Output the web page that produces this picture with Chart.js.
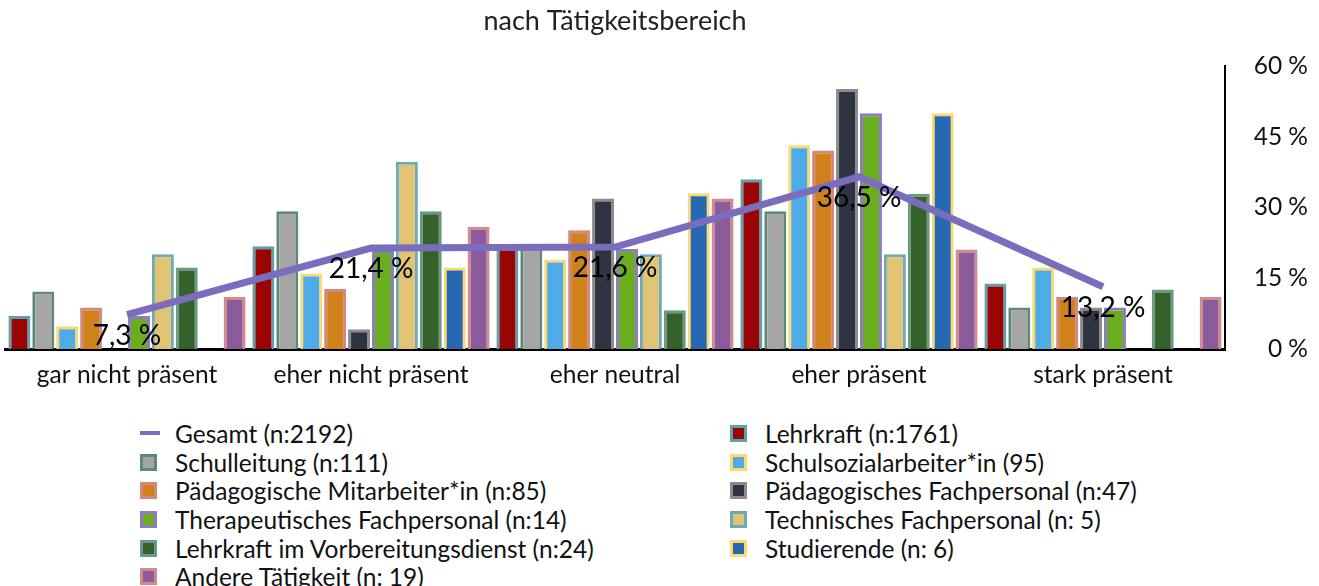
<!DOCTYPE html>
<html>
<head>
<meta charset="utf-8">
<script src="https://cdn.jsdelivr.net/npm/chart.js@4/dist/chart.umd.min.js"></script>
<style>
  html, body { margin: 0; padding: 0; background: #fff; overflow: hidden; }
  #wrap { position: relative; width: 1319px; height: 586px; font-family: Lato, "Open Sans", sans-serif; }
  #chartBox { position: absolute; left: 0; top: 0; width: 1319px; height: 400px; }
  #legend { position: absolute; left: 140px; top: 419px; display: grid;
            grid-template-columns: 590px 500px; grid-auto-rows: 28.7px; font-size: 24.5px; color: #111; }
  .item { display: flex; align-items: center; white-space: nowrap; }
  .box { width: 11px; height: 11px; border: 3px solid; margin-right: 18px; }
  .line { width: 20px; height: 4px; margin-right: 15px; }
</style>
</head>
<body>
<div id="wrap">
  <div id="chartBox"><canvas id="chart"></canvas></div>
  <div id="legend"></div>
</div>
<script>
// --- DATEN ---
const kategorien = ["gar nicht präsent", "eher nicht präsent", "eher neutral", "eher präsent", "stark präsent"];
const gesamt = [7.3, 21.4, 21.6, 36.5, 13.2];

const lehrkraft          = [7.0, 21.8, 21.5, 36.0, 13.9];
const schulleitung       = [12.2, 29.2, 21.3, 29.2, 8.8];
const schulsozial        = [4.8, 16.0, 19.0, 43.2, 17.3];
const paedMitarbeiter    = [8.8, 12.7, 25.2, 42.1, 11.0];
const paedFachpersonal   = [0, 4.2, 31.9, 55.1, 8.8];
const therapeutisch      = [7.0, 21.0, 21.2, 50.0, 8.8];
const technisch          = [20.1, 39.7, 20.1, 20.1, 0];
const vorbereitung       = [17.3, 29.2, 8.2, 32.9, 12.6];
const studierende        = [0, 17.3, 33.0, 50.0, 0];
const andere             = [11.0, 25.9, 31.9, 21.1, 11.0];

const yTicks = [0, 15, 30, 45, 60];

// --- SERIEN (Name, Füllung, Rand) ---
const serien = [
  { name: "Lehrkraft (n:1761)", data: lehrkraft, fill: "#990505", rand: "#5aa2ad" },
  { name: "Schulleitung (n:111)", data: schulleitung, fill: "#a5a5a5", rand: "#5b8a77" },
  { name: "Schulsozialarbeiter*in (95)", data: schulsozial, fill: "#4eabe7", rand: "#fcd96a" },
  { name: "Pädagogische Mitarbeiter*in (n:85)", data: paedMitarbeiter, fill: "#d0821a", rand: "#d48682" },
  { name: "Pädagogisches Fachpersonal (n:47)", data: paedFachpersonal, fill: "#2e3442", rand: "#8c8c8c" },
  { name: "Therapeutisches Fachpersonal (n:14)", data: therapeutisch, fill: "#6aad1f", rand: "#8b7cc4" },
  { name: "Technisches Fachpersonal (n: 5)", data: technisch, fill: "#e0c473", rand: "#6aaab9" },
  { name: "Lehrkraft im Vorbereitungsdienst (n:24)", data: vorbereitung, fill: "#35622a", rand: "#6a9a86" },
  { name: "Studierende (n: 6)", data: studierende, fill: "#2668b1", rand: "#fcd96a" },
  { name: "Andere Tätigkeit (n: 19)", data: andere, fill: "#8b5b9b", rand: "#d48a86" }
];
const lineColor = "#7b6dbe";

const datasets = [{
  type: "line",
  label: "Gesamt (n:2192)",
  data: gesamt,
  borderColor: lineColor,
  backgroundColor: lineColor,
  borderWidth: 7,
  pointRadius: 0,
  tension: 0,
  borderCapStyle: "butt"
}].concat(serien.map(s => ({
  type: "bar",
  label: s.name,
  data: s.data,
  backgroundColor: s.fill,
  borderColor: s.rand,
  borderWidth: 3,
  barPercentage: 0.92,
  categoryPercentage: 0.98
})));

// Titel und Werte-Beschriftung der Linie
const extras = {
  id: "extras",
  afterDatasetsDraw(chart) {
    const ctx = chart.ctx;
    const ca = chart.chartArea;
    ctx.save();
    ctx.fillStyle = "#000";
    ctx.textAlign = "center";
    ctx.textBaseline = "middle";
    ctx.font = "28px Lato, 'Open Sans', sans-serif";
    chart.getDatasetMeta(0).data.forEach((pt, i) => {
      ctx.fillText(gesamt[i].toFixed(1).replace(".", ",") + " %", pt.x, pt.y + 21);
    });
    ctx.font = "27px Lato, 'Open Sans', sans-serif";
    ctx.fillStyle = "#222";
    ctx.fillText("nach Tätigkeitsbereich", (ca.left + ca.right) / 2, 21);
    ctx.restore();
  }
};

new Chart(document.getElementById("chart"), {
  data: { labels: kategorien, datasets: datasets },
  plugins: [extras],
  options: {
    responsive: true,
    maintainAspectRatio: false,
    animation: false,
    layout: { padding: { left: 5, right: 11, top: 66, bottom: 0 } },
    plugins: { legend: { display: false }, tooltip: { enabled: false }, title: { display: false } },
    scales: {
      x: {
        grid: { display: false, drawTicks: false },
        border: { color: "#000", width: 3 },
        ticks: { color: "#111", font: { family: "Lato", size: 24.5 }, padding: 11 },
        afterFit: s => { s.height = 51; }
      },
      y: {
        position: "right",
        min: 0, max: 60,
        afterBuildTicks: s => { s.ticks = yTicks.map(v => ({ value: v })); },
        grid: { display: false, drawTicks: false },
        border: { color: "#000", width: 2 },
        ticks: { color: "#111", font: { family: "Lato", size: 24.5 }, crossAlign: "far",
                 callback: v => v + " %" },
        afterFit: s => { s.width = 83; }
      }
    }
  }
});

// --- LEGENDE (2 Spalten) ---
const legend = document.getElementById("legend");
let html = '<div class="item"><span class="line" style="background:' + lineColor + '"></span>' + datasets[0].label + '</div>';
serien.forEach(s => {
  html += '<div class="item"><span class="box" style="background:' + s.fill + ';border-color:' + s.rand + '"></span>' + s.name + '</div>';
});
legend.innerHTML = html;
</script>
</body>
</html>
